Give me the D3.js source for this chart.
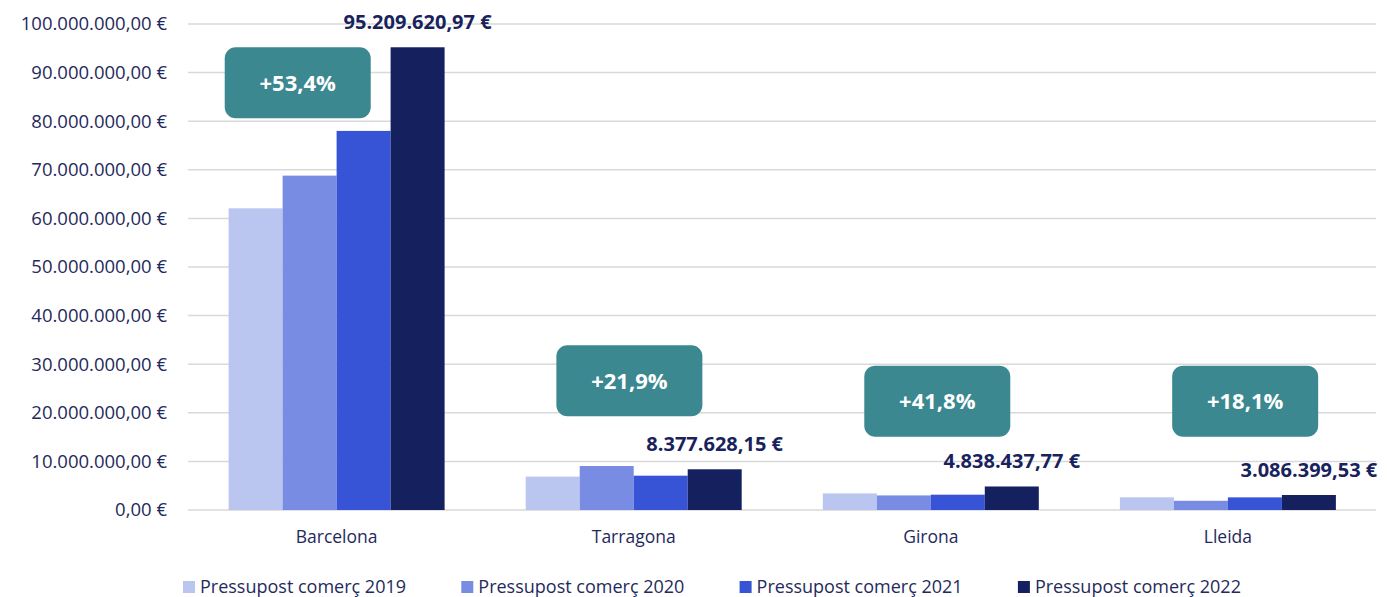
<!DOCTYPE html>
<html>
<head>
<meta charset="utf-8">
<script src="https://cdn.jsdelivr.net/npm/d3@7"></script>
<style>
  body { margin: 0; background: #fff; }
  svg { font-family: "Open Sans", sans-serif; }
</style>
</head>
<body>
<div id="chart"></div>
<script>
const categories = ["Barcelona", "Tarragona", "Girona", "Lleida"];
const seriesNames = ["Pressupost comerç 2019", "Pressupost comerç 2020", "Pressupost comerç 2021", "Pressupost comerç 2022"];
const values2019 = [62070000, 6870000, 3410000, 2613000];
const values2020 = [68800000, 9050000, 3000000, 1900000];
const values2021 = [78000000, 7060000, 3150000, 2600000];
const values2022 = [95209620.97, 8377628.15, 4838437.77, 3086399.53];
const growthLabels = ["+53,4%", "+21,9%", "+41,8%", "+18,1%"];
const yTicks = [0, 10e6, 20e6, 30e6, 40e6, 50e6, 60e6, 70e6, 80e6, 90e6, 100e6];

const colors = ["#bac5f0", "#798ce3", "#3753d6", "#14215e"];
const textColor = "#1f2a5c";

const width = 1387, height = 597;
const locale = d3.formatLocale({decimal: ",", thousands: ".", grouping: [3], currency: ["", " €"]});
const fmt = locale.format("$,.2f");

const svg = d3.select("#chart").append("svg")
    .attr("width", width)
    .attr("height", height);

// scales
const x0 = d3.scaleBand()
    .domain(categories)
    .range([188.5, 1376])
    .paddingInner(0.273)
    .paddingOuter(0.135);

const x1 = d3.scaleBand()
    .domain(seriesNames)
    .range([0, x0.bandwidth()]);

const y = d3.scaleLinear()
    .domain([0, 100e6])
    .range([510, 24]);

// gridlines + y labels
const grid = svg.append("g");
grid.selectAll("line")
    .data(yTicks)
    .enter().append("line")
    .attr("x1", 188)
    .attr("x2", 1376)
    .attr("y1", d => y(d))
    .attr("y2", d => y(d))
    .attr("stroke", "#d9d9d9")
    .attr("stroke-width", 1.5);

grid.selectAll("text")
    .data(yTicks)
    .enter().append("text")
    .attr("x", 167)
    .attr("y", d => y(d))
    .attr("dy", "0.35em")
    .attr("text-anchor", "end")
    .attr("font-size", 18.5)
    .attr("fill", textColor)
    .text(d => fmt(d));

// bars
const seriesValues = [values2019, values2020, values2021, values2022];
const groups = svg.append("g")
    .selectAll("g")
    .data(categories)
    .enter().append("g")
    .attr("transform", d => `translate(${x0(d)},0)`);

groups.selectAll("rect")
    .data((d, i) => seriesNames.map((s, j) => ({series: s, j: j, value: seriesValues[j][i]})))
    .enter().append("rect")
    .attr("x", d => x1(d.series))
    .attr("width", x1.bandwidth())
    .attr("y", d => y(d.value))
    .attr("height", d => y(0) - y(d.value))
    .attr("fill", d => colors[d.j]);

// 2022 value labels
groups.append("text")
    .attr("x", x1(seriesNames[3]) + x1.bandwidth() / 2)
    .attr("y", (d, i) => y(values2022[i]) - 18)
    .attr("text-anchor", "middle")
    .attr("font-size", 20)
    .attr("font-weight", "bold")
    .attr("fill", "#18225c")
    .text((d, i) => fmt(values2022[i]));

// growth badges (placed by hand like the original)
const badgeX = [0.32, 0.48, 0.53, 0.58];
const badgeY = [87.9e6, 26.6e6, 22.4e6, 22.4e6];
const badgeW = 146, badgeH = 71;

const badges = groups.append("g")
    .attr("transform", (d, i) => `translate(${x0.bandwidth() * badgeX[i] - badgeW / 2},${y(badgeY[i]) - badgeH / 2})`);

badges.append("rect")
    .attr("width", badgeW)
    .attr("height", badgeH)
    .attr("rx", 11)
    .attr("fill", "#3b8890");

badges.append("text")
    .attr("x", badgeW / 2)
    .attr("y", badgeH / 2)
    .attr("dy", "0.36em")
    .attr("text-anchor", "middle")
    .attr("font-size", 22)
    .attr("font-weight", "bold")
    .attr("fill", "#fff")
    .text((d, i) => growthLabels[i]);

// category labels
svg.append("g")
    .selectAll("text")
    .data(categories)
    .enter().append("text")
    .attr("x", d => x0(d) + x0.bandwidth() / 2)
    .attr("y", 543)
    .attr("text-anchor", "middle")
    .attr("font-size", 17.5)
    .attr("fill", textColor)
    .text(d => d);

// legend
const legend = svg.append("g")
    .selectAll("g")
    .data(seriesNames)
    .enter().append("g")
    .attr("transform", (d, i) => `translate(${183 + i * 278.3},581)`);

legend.append("rect")
    .attr("width", 12)
    .attr("height", 12)
    .attr("fill", (d, i) => colors[i]);

legend.append("text")
    .attr("x", 17)
    .attr("y", 12)
    .attr("font-size", 18)
    .attr("fill", textColor)
    .text(d => d);
</script>
</body>
</html>
